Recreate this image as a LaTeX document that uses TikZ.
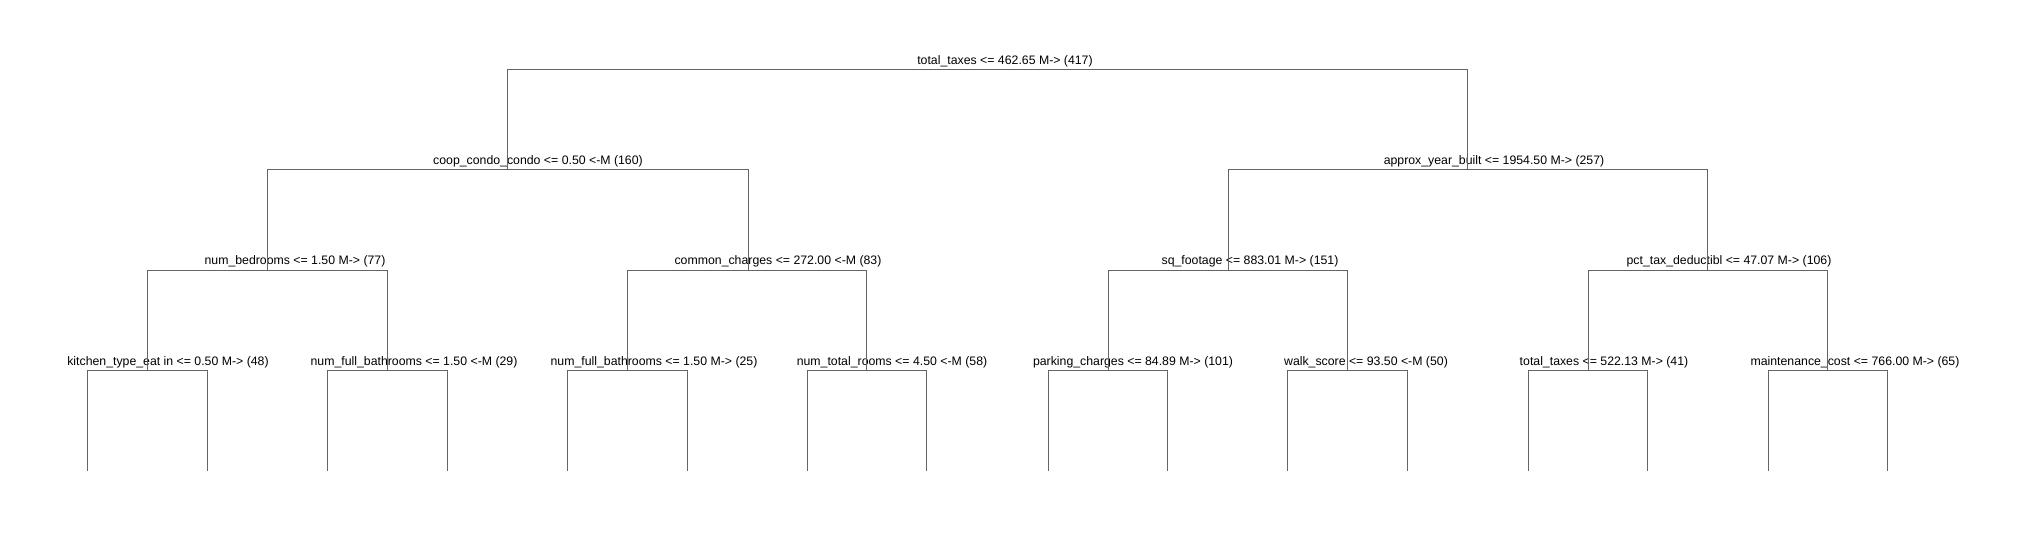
\documentclass[tikz,border=0pt]{standalone}
\usepackage{fontspec}
\setmainfont{Liberation Sans}
\usetikzlibrary{positioning}
\definecolor{edgegray}{RGB}{100,100,100}

\begin{document}
\begin{tikzpicture}[x=1pt,y=-1pt,
    edge/.style={draw=edgegray,line width=1pt},
    split/.style={anchor=base,inner sep=0pt,font=\fontsize{12.3}{14}\selectfont}]
  \useasboundingbox (0,0) rectangle (2027,540);

  % Split points
  \coordinate (n0) at (987,70);
  \coordinate (n1) at (507,170);
  \coordinate (n2) at (1467,170);
  \coordinate (n3) at (267,270);
  \coordinate (n4) at (748,270);
  \coordinate (n5) at (1228,270);
  \coordinate (n6) at (1707,270);
  \foreach \i/\x in {7/147,8/387,9/627,10/866,11/1108,12/1347,13/1588,14/1827}
    \coordinate (n\i) at (\x,370);

  % Leaves
  \foreach \i/\x in {1/87,2/207,3/327,4/447,5/567,6/687,7/807,8/926,
                     9/1048,10/1167,11/1287,12/1407,13/1528,14/1647,15/1768,16/1887}
    \coordinate (lf\i) at (\x,471);

  % Labels
  \node[split] (t0) at (1005,65) {total\_taxes <= 462.65 M-> (417)};
  \node[split] (t1) at (538,165) {coop\_condo\_condo <= 0.50 <-M (160)};
  \node[split] (t2) at (1494,165) {approx\_year\_built <= 1954.50 M-> (257)};
  \node[split] (t3) at (295,265) {num\_bedrooms <= 1.50 M-> (77)};
  \node[split] (t4) at (778,265) {common\_charges <= 272.00 <-M (83)};
  \node[split] (t5) at (1250,265) {sq\_footage <= 883.01 M-> (151)};
  \node[split] (t6) at (1729,265) {pct\_tax\_deductibl <= 47.07 M-> (106)};
  \node[split] (t7) at (168,365) {kitchen\_type\_eat in <= 0.50 M-> (48)};
  \node[split] (t8) at (414,365) {num\_full\_bathrooms <= 1.50 <-M (29)};
  \node[split] (t9) at (654,365) {num\_full\_bathrooms <= 1.50 M-> (25)};
  \node[split] (t10) at (892,365) {num\_total\_rooms <= 4.50 <-M (58)};
  \node[split] (t11) at (1133,365) {parking\_charges <= 84.89 M-> (101)};
  \node[split] (t12) at (1366,365) {walk\_score <= 93.50 <-M (50)};
  \node[split] (t13) at (1604,365) {total\_taxes <= 522.13 M-> (41)};
  \node[split] (t14) at (1855,365) {maintenance\_cost <= 766.00 M-> (65)};

  % Branches
  \foreach \p/\c in {n0/n1,n0/n2,n1/n3,n1/n4,n2/n5,n2/n6,
                     n3/n7,n3/n8,n4/n9,n4/n10,n5/n11,n5/n12,n6/n13,n6/n14}
    \draw[edge] (\p) -| (\c);
  \foreach \p/\a/\b in {7/1/2,8/3/4,9/5/6,10/7/8,11/9/10,12/11/12,13/13/14,14/15/16}{
    \draw[edge] (n\p) -| (lf\a);
    \draw[edge] (n\p) -| (lf\b);
  }

\end{tikzpicture}
\end{document}
